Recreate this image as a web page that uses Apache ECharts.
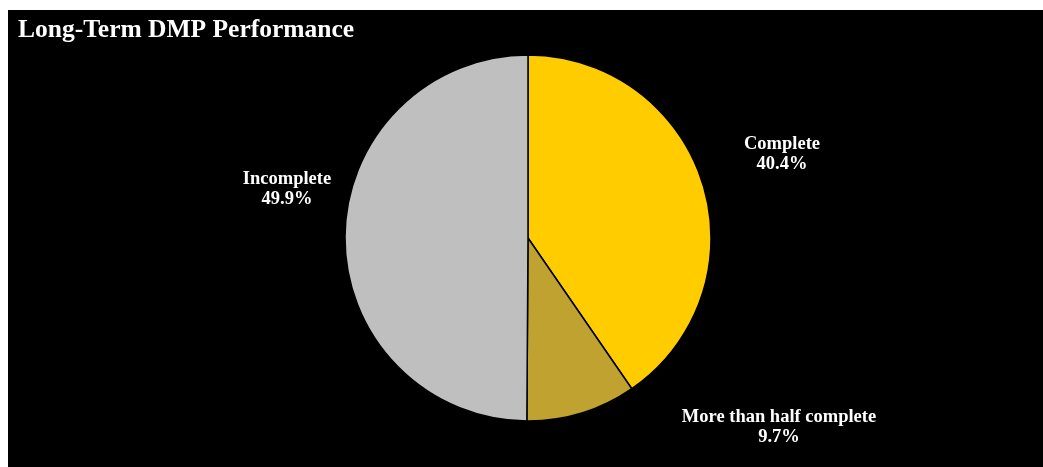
<!DOCTYPE html>
<html>
<head>
<meta charset="utf-8">
<script src="https://cdn.jsdelivr.net/npm/echarts@6/dist/echarts.min.js"></script>
<style>
  html, body { margin: 0; padding: 0; background: #ffffff; }
  #chart { position: absolute; left: 8px; top: 10px; width: 1035px; height: 457px; background: #000000; }
</style>
</head>
<body>
<div id="chart"></div>
<script>
// Share of long-term DMPs by completion status (percent)
const categories = ['Complete', 'More than half complete', 'Incomplete'];
const shares = [40.4, 9.7, 49.9];
const sliceColors = ['#FFCC00', '#BFA22F', '#BFBFBF'];

// Where each category label sits inside the chart box
const labelSpots = [[774, 144], [771, 417], [279, 179]];

const chart = echarts.init(document.getElementById('chart'), null, { renderer: 'canvas' });

chart.setOption({
  backgroundColor: '#000000',
  animation: false,
  title: {
    text: 'Long-Term DMP Performance',
    left: 10,
    top: 7,
    padding: 0,
    textStyle: {
      color: '#ffffff',
      fontFamily: '"Liberation Serif", "Times New Roman", serif',
      fontWeight: 'bold',
      fontSize: 25.5
    }
  },
  series: [{
    type: 'pie',
    center: [520, 228],
    radius: [0, 183],
    startAngle: 90,
    clockwise: true,
    data: categories.map((name, i) => ({
      name: name,
      value: shares[i],
      itemStyle: { color: sliceColors[i] }
    })),
    itemStyle: { borderColor: '#000000', borderWidth: 1.5 },
    label: {
      show: true,
      position: 'outside',
      formatter: (p) => p.name + '\n' + p.value.toFixed(1) + '%',
      color: '#ffffff',
      fontFamily: '"Liberation Serif", "Times New Roman", serif',
      fontWeight: 'bold',
      fontSize: 18.5,
      lineHeight: 20,
      align: 'center'
    },
    labelLine: { show: false },
    labelLayout: (p) => ({
      x: labelSpots[p.dataIndex][0],
      y: labelSpots[p.dataIndex][1],
      align: 'center',
      verticalAlign: 'middle'
    }),
    emphasis: { disabled: true }
  }]
});
</script>
</body>
</html>
